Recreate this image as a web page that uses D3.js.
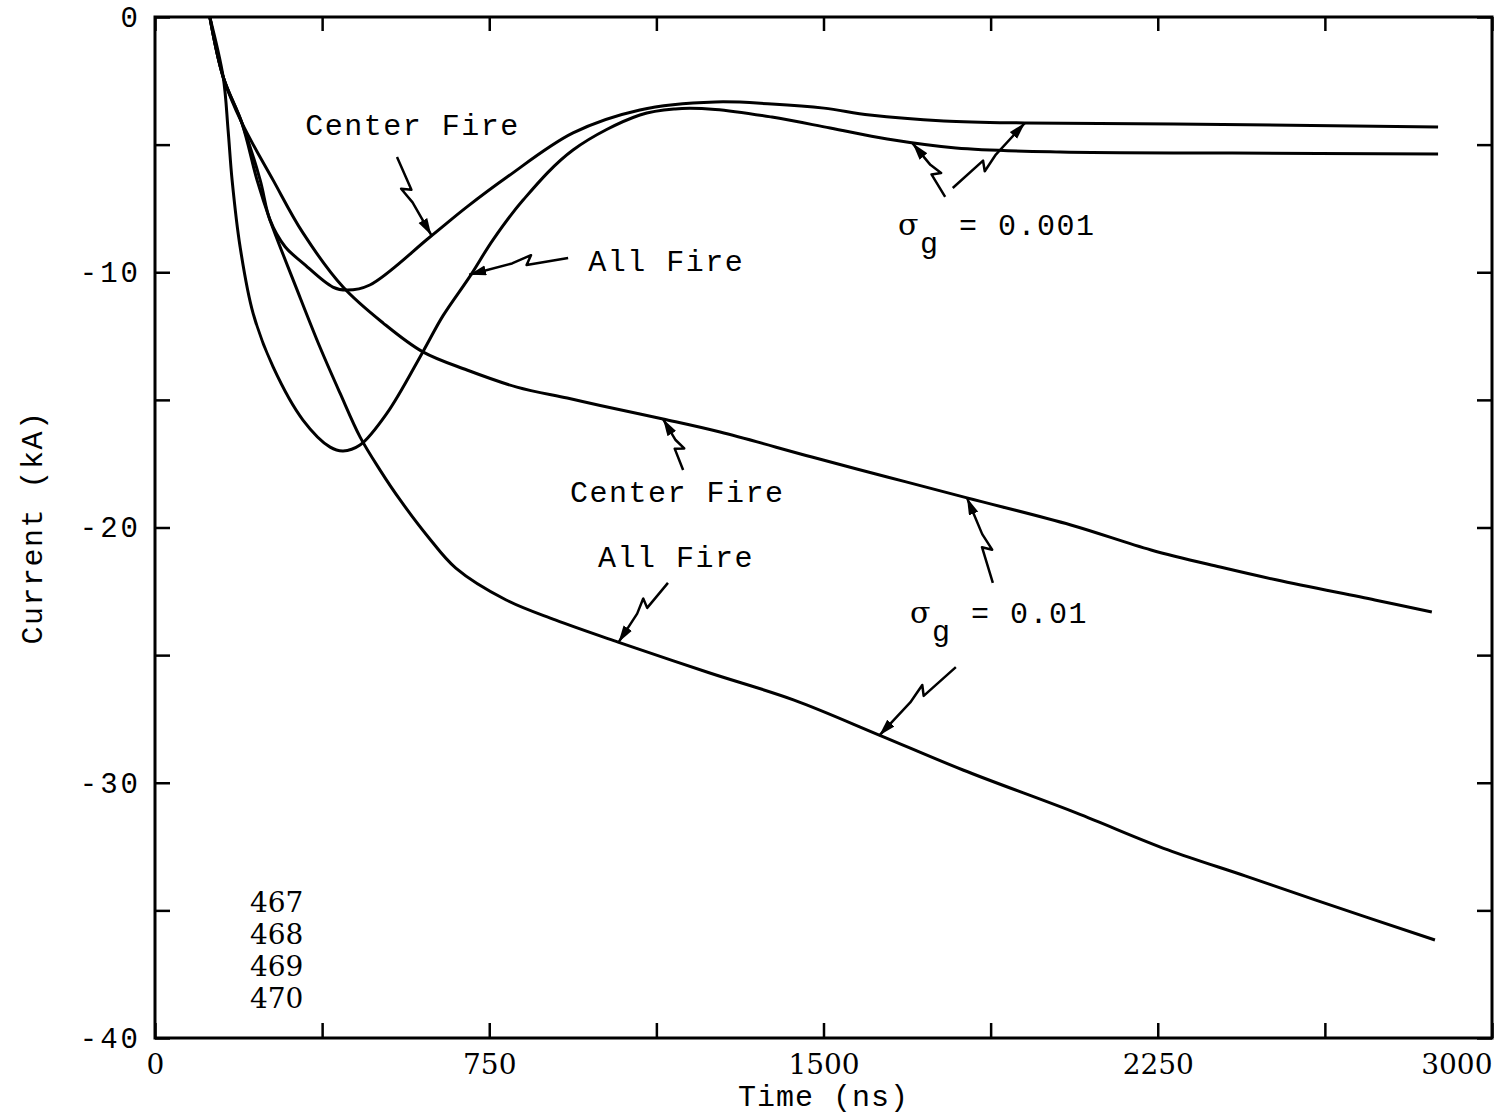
<!DOCTYPE html>
<html>
<head>
<meta charset="utf-8">
<script src="https://cdn.jsdelivr.net/npm/d3@7"></script>
<style>
  body { margin: 0; background: #fff; }
  text { fill: #000; }
</style>
</head>
<body>
<div id="chart"></div>
<script>
// time (ns), current (kA)
var centerFire001 = [[123,0],[153,-2.35],[195,-4.15],[236,-6.39],[258,-7.95],[292,-9.0],[332,-9.64],[399,-10.58],[431,-10.70],[482,-10.50],[617,-8.62],[700,-7.44],[790,-6.27],[938,-4.54],[1088,-3.64],[1257,-3.33],[1384,-3.41],[1501,-3.57],[1604,-3.84],[1770,-4.07],[1952,-4.15],[2286,-4.19],[2879,-4.31]];
var allFire001 = [[123,0],[153,-2.35],[164,-4.43],[173,-6.39],[191,-9.01],[220,-11.60],[265,-13.71],[332,-15.79],[393,-16.85],[422,-17.00],[460,-16.77],[521,-15.51],[601,-13.12],[646,-11.71],[707,-10.15],[758,-8.74],[826,-7.17],[938,-5.21],[1088,-3.84],[1167,-3.60],[1257,-3.62],[1384,-3.92],[1515,-4.35],[1643,-4.78],[1797,-5.13],[2031,-5.29],[2417,-5.33],[2879,-5.37]];
var centerFire01 = [[123,0],[153,-2.35],[195,-4.15],[265,-6.39],[332,-8.46],[422,-10.58],[512,-11.99],[601,-13.12],[700,-13.83],[812,-14.50],[925,-14.93],[999,-15.22],[1140,-15.75],[1268,-16.26],[1474,-17.24],[1643,-18.02],[1822,-18.84],[2055,-19.90],[2235,-20.88],[2390,-21.55],[2518,-22.06],[2737,-22.84],[2865,-23.31]];
var allFire01 = [[123,0],[153,-2.35],[195,-4.15],[229,-6.39],[258,-7.95],[319,-10.70],[370,-12.93],[415,-14.73],[460,-16.45],[505,-17.75],[550,-18.92],[613,-20.37],[675,-21.59],[788,-22.84],[898,-23.62],[1039,-24.49],[1245,-25.70],[1434,-26.76],[1625,-28.13],[1813,-29.50],[2067,-31.18],[2273,-32.63],[2446,-33.65],[2603,-34.59],[2872,-36.16]];

var xTicks = [0,375,750,1125,1500,1875,2250,2625,3000];
var yTicks = [0,-5,-10,-15,-20,-25,-30,-35,-40];
var runIds = ["467","468","469","470"];

// labels: [text, t, I]
var labels = [
  ["Center Fire", 337, -4.62],
  ["All Fire", 972, -9.95],
  ["Center Fire", 931, -19.0],
  ["All Fire", 994, -21.55]
];
var sigmaLabels = [["0.001", 1667, -8.54], ["0.01", 1694, -23.74]];
// leader arrows: [tailT, tailI, headT, headI]
var arrows = [
  [543,-5.48, 620,-8.55],
  [927,-9.44, 705,-10.1],
  [1773,-7.05, 1700,-4.95],
  [1790,-6.70, 1952,-4.15],
  [1185,-17.75, 1140,-15.75],
  [1880,-22.17, 1822,-18.84],
  [1151,-22.17, 1040,-24.5],
  [1797,-25.47, 1625,-28.15]
];

var W = 1509, H = 1118;
var margin = {top: 17, right: 17, bottom: 80, left: 155};

var x = d3.scaleLinear().domain([0, 3000]).range([margin.left, W - margin.right]);
var y = d3.scaleLinear().domain([-40, 0]).range([H - margin.bottom, margin.top]);

var svg = d3.select("#chart").append("svg")
    .attr("width", W)
    .attr("height", H)
    .style("font-family", "'Liberation Mono', 'DejaVu Sans Mono', monospace");

svg.append("defs").append("marker")
    .attr("id", "head")
    .attr("markerUnits", "userSpaceOnUse")
    .attr("markerWidth", 18)
    .attr("markerHeight", 12)
    .attr("refX", 17)
    .attr("refY", 5)
    .attr("orient", "auto")
  .append("path")
    .attr("d", "M0,0 L17,5 L0,10 Z")
    .attr("fill", "#000");

var mono = "'Liberation Mono', 'DejaVu Sans Mono', monospace";
var serif = "'DejaVu Serif', 'Liberation Serif', serif";

// axes, ticks pointing inward on all four sides
var bottom = svg.append("g")
    .attr("transform", "translate(0," + y(-40) + ")")
    .call(d3.axisBottom(x).tickValues(xTicks).tickSizeInner(-15).tickSizeOuter(0).tickPadding(16)
      .tickFormat(function(d) { return d % 750 === 0 ? d : ""; }));
bottom.selectAll("text").style("font-family", serif).style("font-size", "28px");
bottom.selectAll("text").filter(function(d) { return d === 3000; }).attr("text-anchor", "end");

svg.append("g")
    .attr("transform", "translate(0," + y(0) + ")")
    .call(d3.axisTop(x).tickValues(xTicks).tickSizeInner(-14).tickSizeOuter(0).tickFormat(""));

var left = svg.append("g")
    .attr("transform", "translate(" + x(0) + ",0)")
    .call(d3.axisLeft(y).tickValues(yTicks).tickSizeInner(-15).tickSizeOuter(0).tickPadding(14)
      .tickFormat(function(d) { return d % 10 === 0 ? String(d) : ""; }));
left.selectAll("text").style("font-family", mono).style("font-size", "29px").style("letter-spacing", "3px");

svg.append("g")
    .attr("transform", "translate(" + x(3000) + ",0)")
    .call(d3.axisRight(y).tickValues(yTicks).tickSizeInner(-15).tickSizeOuter(0).tickFormat(""));

svg.selectAll(".domain").remove();
svg.selectAll(".tick line").attr("stroke", "#000").attr("stroke-width", 2.5);

svg.append("rect")
    .attr("x", x(0))
    .attr("y", y(0))
    .attr("width", x(3000) - x(0))
    .attr("height", y(-40) - y(0))
    .attr("fill", "none")
    .attr("stroke", "#000")
    .attr("stroke-width", 3);

// axis titles
svg.append("text")
    .attr("x", x(1500))
    .attr("y", H - 12)
    .attr("text-anchor", "middle")
    .style("font-size", "30px")
    .style("letter-spacing", "1px")
    .text("Time (ns)");

svg.append("text")
    .attr("transform", "translate(42," + y(-20) + ") rotate(-90)")
    .attr("text-anchor", "middle")
    .style("font-size", "30px")
    .style("letter-spacing", "1.5px")
    .text("Current (kA)");

// curves
var line = d3.line()
    .x(function(d) { return x(d[0]); })
    .y(function(d) { return y(d[1]); })
    .curve(d3.curveCatmullRom.alpha(0.5));

[centerFire001, allFire001, centerFire01, allFire01].forEach(function(s) {
  svg.append("path")
      .datum(s)
      .attr("d", line)
      .attr("fill", "none")
      .attr("stroke", "#000")
      .attr("stroke-width", 3)
      .attr("stroke-linejoin", "round");
});

// lightning-bolt leaders
function bolt(a) {
  var tx = x(a[0]), ty = y(a[1]), hx = x(a[2]), hy = y(a[3]);
  var dx = hx - tx, dy = hy - ty, len = Math.sqrt(dx * dx + dy * dy);
  var ux = dx / len, uy = dy / len, nx = -uy, ny = ux;
  var p1 = [tx + ux * len * 0.42, ty + uy * len * 0.42];
  var p2 = [tx + ux * len * 0.36 + nx * 9, ty + uy * len * 0.36 + ny * 9];
  var p3 = [tx + ux * len * 0.56 + nx * 4, ty + uy * len * 0.56 + ny * 4];
  return "M" + tx + "," + ty + "L" + p1 + "L" + p2 + "L" + p3 + "L" + hx + "," + hy;
}

svg.selectAll(".leader")
    .data(arrows)
    .enter().append("path")
    .attr("class", "leader")
    .attr("d", bolt)
    .attr("fill", "none")
    .attr("stroke", "#000")
    .attr("stroke-width", 2.5)
    .attr("stroke-linejoin", "round")
    .attr("marker-end", "url(#head)");

svg.selectAll(".lbl")
    .data(labels)
    .enter().append("text")
    .attr("class", "lbl")
    .attr("x", function(d) { return x(d[1]); })
    .attr("y", function(d) { return y(d[2]); })
    .style("font-size", "30px")
    .style("letter-spacing", "1.5px")
    .text(function(d) { return d[0]; });

var sig = svg.selectAll(".sig")
    .data(sigmaLabels)
    .enter().append("text")
    .attr("class", "sig")
    .attr("x", function(d) { return x(d[1]); })
    .attr("y", function(d) { return y(d[2]); })
    .style("font-size", "30px")
    .style("letter-spacing", "1.5px");
sig.append("tspan").style("font-family", serif).text("σ");
sig.append("tspan").attr("dy", 18).text("g");
sig.append("tspan").attr("dy", -18).text(function(d) { return " = " + d[0]; });

svg.selectAll(".run")
    .data(runIds)
    .enter().append("text")
    .attr("class", "run")
    .attr("x", x(213))
    .attr("y", function(d, i) { return y(-35.06) + i * 32; })
    .style("font-family", serif)
    .style("font-size", "28px")
    .text(function(d) { return d; });
</script>
</body>
</html>
